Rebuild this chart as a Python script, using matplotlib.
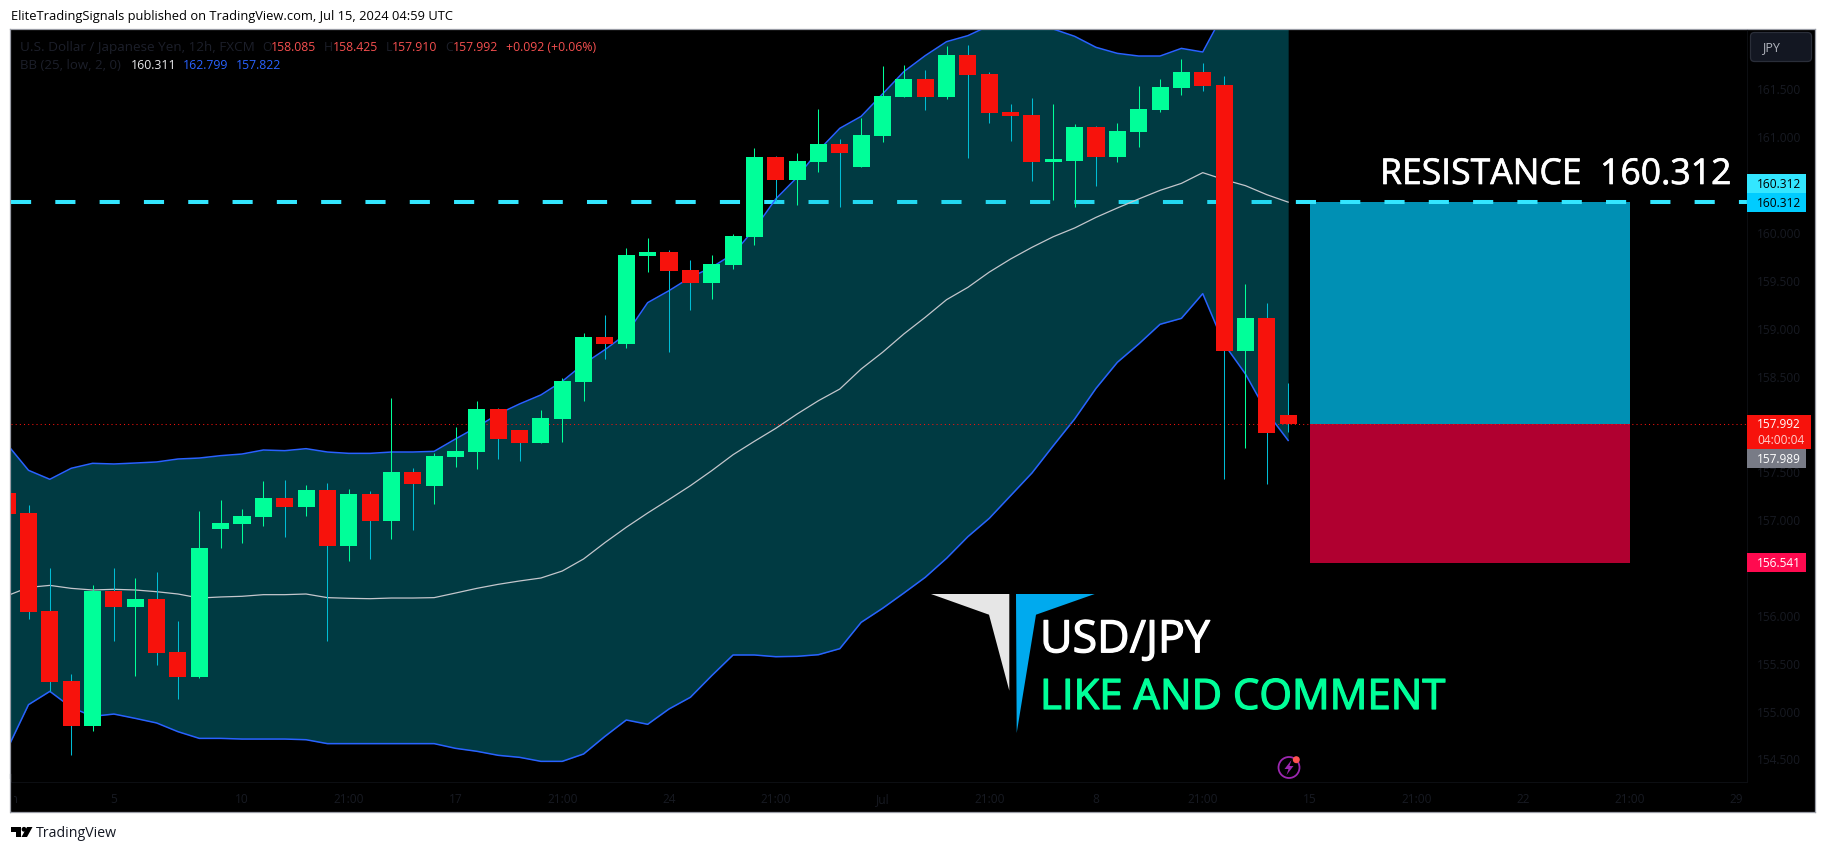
import numpy as np
import matplotlib
matplotlib.use("Agg")
from matplotlib import pyplot as plt
from matplotlib import patheffects
from matplotlib.patches import Rectangle, Polygon, Circle, FancyBboxPatch

W, H = 1826, 853

# =======================================================================================================================
# candles, first one is the cut off bar at the left edge
bar_index = np.arange(-1, 60)
opens = [157.273, 157.064, 156.040, 155.309, 154.843, 156.253, 156.086, 156.166, 155.612, 155.354, 156.900,
         156.949, 157.026, 157.221, 157.130, 157.304, 156.723, 157.262, 156.984, 157.492, 157.346, 157.649,
         157.705, 158.150, 157.930, 157.795, 158.046, 158.432, 158.902, 158.829, 159.748, 159.790, 159.602,
         159.466, 159.654, 159.947, 160.782, 160.542, 160.730, 160.918, 160.678, 161.002, 161.409, 161.597,
         161.409, 161.848, 161.649, 161.252, 161.221, 160.730, 160.740, 161.096, 160.782, 161.044, 161.273,
         161.503, 161.670, 161.534, 158.756, 159.101, 158.085]
closes = [157.054, 156.033, 155.302, 154.843, 156.253, 156.086, 156.166, 155.605, 155.354, 156.698, 156.960,
          157.033, 157.221, 157.130, 157.304, 156.723, 157.262, 156.984, 157.492, 157.367, 157.659, 157.711,
          158.150, 157.840, 157.795, 158.056, 158.443, 158.902, 158.829, 159.759, 159.790, 159.592, 159.466,
          159.665, 159.957, 160.782, 160.542, 160.740, 160.918, 160.824, 161.012, 161.420, 161.597, 161.409,
          161.848, 161.639, 161.242, 161.211, 160.730, 160.761, 161.096, 160.782, 161.054, 161.284, 161.514,
          161.670, 161.524, 158.756, 159.101, 157.900, 157.992]
highs = [157.310, 157.148, 156.489, 155.382, 156.312, 156.489, 156.385, 156.448, 155.936, 157.085, 157.200,
         157.106, 157.398, 157.409, 157.356, 157.377, 157.315, 157.294, 158.262, 157.534, 157.687, 157.962,
         158.234, 158.161, 157.931, 158.140, 158.474, 158.944, 159.132, 159.832, 159.937, 159.811, 159.707,
         159.759, 159.978, 160.876, 160.793, 160.824, 161.284, 160.970, 161.190, 161.733, 161.743, 161.691,
         161.942, 161.952, 161.670, 161.336, 161.399, 161.336, 161.127, 161.106, 161.138, 161.524, 161.597,
         161.806, 161.764, 161.629, 159.456, 159.257, 158.425]
lows = [156.990, 155.957, 155.208, 154.536, 154.790, 155.727, 155.361, 155.476, 155.121, 155.344, 156.698,
        156.751, 156.928, 156.813, 157.033, 155.727, 156.563, 156.584, 156.792, 156.886, 157.158, 157.544,
        157.524, 157.628, 157.607, 157.795, 157.806, 158.234, 158.673, 158.787, 159.581, 158.746, 159.184,
        159.299, 159.612, 159.863, 160.326, 160.281, 160.626, 160.260, 160.678, 160.939, 161.409, 161.273,
        161.388, 160.772, 161.138, 160.949, 160.532, 160.333, 160.260, 160.480, 160.730, 160.887, 161.252,
        161.430, 161.472, 157.419, 157.743, 157.367, 157.910]

# bollinger bands
bb_upper = [157.781, 157.510, 157.416, 157.531, 157.583, 157.576, 157.586, 157.597, 157.628, 157.638, 157.663,
            157.680, 157.722, 157.715, 157.736, 157.701, 157.687, 157.687, 157.701, 157.701, 157.708, 157.837,
            157.962, 158.098, 158.203, 158.297, 158.439, 158.620, 158.770, 158.934, 159.261, 159.386, 159.525,
            159.630, 159.769, 160.030, 160.344, 160.570, 160.849, 161.082, 161.207, 161.440, 161.674, 161.841,
            161.987, 162.050, 162.154, 162.250, 162.250, 162.119, 162.043, 161.928, 161.865, 161.837, 161.837,
            161.917, 161.879, 162.293, 162.500, 162.700, 162.799]
bb_basis = [156.200, 156.287, 156.308, 156.277, 156.260, 156.267, 156.260, 156.242, 156.218, 156.176, 156.187,
            156.194, 156.211, 156.211, 156.218, 156.180, 156.173, 156.169, 156.176, 156.176, 156.180, 156.228,
            156.277, 156.319, 156.354, 156.385, 156.458, 156.584, 156.755, 156.915, 157.064, 157.205, 157.349,
            157.506, 157.673, 157.813, 157.948, 158.098, 158.237, 158.359, 158.568, 158.742, 158.934, 159.108,
            159.292, 159.421, 159.580, 159.717, 159.839, 159.950, 160.041, 160.152, 160.250, 160.344, 160.434,
            160.507, 160.619, 160.546, 160.483, 160.389, 160.311]
bb_lower = [154.595, 155.062, 155.201, 155.034, 154.940, 154.964, 154.919, 154.871, 154.780, 154.710, 154.710,
            154.703, 154.703, 154.703, 154.696, 154.655, 154.655, 154.655, 154.655, 154.655, 154.655, 154.606,
            154.575, 154.533, 154.512, 154.470, 154.470, 154.547, 154.731, 154.902, 154.857, 155.017, 155.139,
            155.365, 155.581, 155.581, 155.563, 155.567, 155.584, 155.647, 155.922, 156.068, 156.228, 156.392,
            156.591, 156.817, 157.008, 157.245, 157.482, 157.767, 158.046, 158.366, 158.638, 158.829, 159.035,
            159.097, 159.355, 158.829, 158.516, 158.116, 157.822]

resistance = 160.312
last_close = 157.992
stop = 156.541
box_start, box_end = 60, 75

price_ticks = [154.5, 155.0, 155.5, 156.0, 156.5, 157.0, 157.5, 158.0, 158.5, 159.0, 159.5, 160.0, 160.5, 161.0, 161.5]
hidden_prices = [156.5, 158.0, 160.5]
time_ticks = [4, 10, 15, 20, 25, 30, 35, 40, 45, 50, 55, 60, 65, 70, 75, 80]
time_labels = ['5', '10', '21:00', '17', '21:00', '24', '21:00', 'Jul', '21:00', '8', '21:00', '15', '21:00',
               '22', '21:00', '29']

UP = '#00ff99'
DOWN = '#f7120c'
WICK_DOWN = '#00bcd4'
TICK = '#171a22'
FONT = 'Open Sans'

# =======================================================================================================================
# scales: one bar is 21.35 px, one price unit is 95.74 px
x_left = (11 - 28.5) / 21.35
x_right = (1747 - 28.5) / 21.35
y_top = 161.5 + (89.3 - 31) / 95.74
y_bottom = 161.5 - (783 - 89.3) / 95.74

fig = plt.figure(figsize=(W / 100, H / 100), dpi=100, facecolor='white')
plt.rcParams['font.family'] = FONT

bg = fig.add_axes([10 / W, 40 / H, 1805 / W, 783 / H], facecolor='black', zorder=0)
bg.set_xticks([])
bg.set_yticks([])
for s in bg.spines.values():
    s.set_color('#9a9da6')
    s.set_linewidth(0.9)

ax = fig.add_axes([11 / W, (H - 783) / H, (1747 - 11) / W, (783 - 31) / H], zorder=1)
ax.patch.set_visible(False)
ax.spines['top'].set_visible(False)
ax.spines['left'].set_visible(False)
ax.spines['right'].set_color('#0c0e12')
ax.spines['bottom'].set_color('#0c0e12')
ax.yaxis.tick_right()
ax.set_yticks([p for p in price_ticks if p not in hidden_prices])
ax.set_yticklabels(['%.3f' % p for p in price_ticks if p not in hidden_prices])
ax.set_xticks(time_ticks)
ax.set_xticklabels(time_labels)
ax.tick_params(axis='y', length=0, pad=7, labelsize=8.6, labelcolor=TICK)
ax.tick_params(axis='x', length=0, pad=7.5, labelsize=8.6, labelcolor=TICK)
# set_xticks can move the limits, so these come after it
ax.set_xlim(x_left, x_right)
ax.set_ylim(y_bottom, y_top)

# position boxes
ax.bar((box_start + box_end) / 2, resistance - last_close, bottom=last_close, width=box_end - box_start,
       color='#0090b4', linewidth=0, zorder=1)
ax.bar((box_start + box_end) / 2, last_close - stop, bottom=stop, width=box_end - box_start,
       color='#b00030', linewidth=0, zorder=1)

# resistance sits under the band, the band tints it
ax.hlines(resistance, x_left, x_right, color='#33e6ff', linewidth=2.9, linestyle=(0, (5, 6)), zorder=2)

ax.fill_between(bar_index, bb_lower, bb_upper, color='#00bcd4', alpha=0.315, linewidth=0, zorder=3)
ax.plot(bar_index, bb_upper, color='#2962ff', linewidth=1.1, zorder=4)
ax.plot(bar_index, bb_lower, color='#2962ff', linewidth=1.1, zorder=4)
ax.plot(bar_index, bb_basis, color='#c4c6cc', linewidth=0.9, zorder=4)

ax.hlines(last_close, x_left, x_right, color=DOWN, linewidth=0.75, linestyle=(0, (1, 3)), zorder=5)

for i, o, h, l, c in zip(bar_index, opens, highs, lows, closes):
    up = c > o
    ax.vlines(i, l, h, color=UP if up else WICK_DOWN, linewidth=0.75, zorder=6)
    ax.bar(i, abs(c - o), bottom=min(o, c), width=0.8, color=UP if up else DOWN, linewidth=0, zorder=7)

# =======================================================================================================================
# everything around the plot, in pixels
px = fig.add_axes([0, 0, 1, 1], zorder=10)
px.set_xlim(0, W)
px.set_ylim(H, 0)
px.axis('off')


def label(x, y, s, color='black', size=9, ha='left', weight='normal'):
    px.text(x, y, s, color=color, fontsize=size, ha=ha, va='center', fontweight=weight, family=FONT)


def big_label(x, y, s, color, size, stroke):
    t = px.text(x, y, s, color=color, fontsize=size, ha='left', va='baseline', family=FONT)
    t.set_path_effects([patheffects.withStroke(linewidth=stroke, foreground=color)])


# 'Jun' runs off the chart, the black strip and the white strip hide the rest of it
px.text(9.5, 798.5, 'Jun', color=TICK, fontsize=8.6, ha='center', va='center', family=FONT)
px.add_patch(Rectangle((10.5, 784), 3.5, 28, color='black', linewidth=0, zorder=5))
px.add_patch(Rectangle((0, 780), 9.6, 40, color='white', linewidth=0, zorder=5))
px.plot([10, 10], [775, 813], color='#9a9da6', linewidth=0.9, zorder=6)

label(11, 16, 'EliteTradingSignals published on TradingView.com, Jul 15, 2024 04:59 UTC', size=9.27)

LEG = '#1c1f2a'
RED = '#f44f4f'
label(20, 47, 'U.S. Dollar / Japanese Yen, 12h, FXCM', LEG, 9.7)
for x, s in [(262, 'O'), (324, 'H'), (385.5, 'L'), (445, 'C')]:
    label(x, 47, s, LEG, 8.8)
for x, s in [(271, '158.085'), (333, '158.425'), (392, '157.910'), (452.7, '157.992'), (506, '+0.092 (+0.06%)')]:
    label(x, 47, s, RED, 8.8)
label(20, 65.5, 'BB (25, low, 2, 0)', LEG, 9.5)
label(130.5, 65.5, '160.311', '#e8e8ea', 8.8)
label(183, 65.5, '162.799', '#2962ff', 8.8)
label(236, 65.5, '157.822', '#2962ff', 8.8)

# currency button
px.add_patch(FancyBboxPatch((1753, 36), 56, 24, boxstyle='round,pad=2.5,rounding_size=4', facecolor='#131722',
                            edgecolor='#2a2e39', linewidth=0.9))
label(1762, 48, 'JPY', '#b2b5be', 9)

# price axis tags
for y0, y1, x1, col, txt, tcol in [(175, 194, 1806, '#33e6ff', '160.312', 'black'),
                                   (194, 213, 1806, '#00ccff', '160.312', 'black'),
                                   (450, 469, 1806, '#787b86', '157.989', 'white'),
                                   (554, 573, 1806, '#ff0a4f', '156.541', 'white')]:
    px.add_patch(Rectangle((1747, y0), x1 - 1747, y1 - y0, color=col, linewidth=0))
    label(1757, (y0 + y1) / 2, txt, tcol, 8.6)
px.add_patch(Rectangle((1747, 416), 64, 34, color=DOWN, linewidth=0))
label(1757, 425, '157.992', 'white', 8.6)
label(1757, 440, '04:00:04', '#ffd0ce', 8.6)

big_label(1380, 185, 'RESISTANCE  160.312', 'white', 25.6, 0.5)
big_label(1040, 653.3, 'USD/JPY', 'white', 32.2, 0.9)
big_label(1040, 710, 'LIKE AND COMMENT', UP, 30.2, 0.9)

# logo
px.add_patch(Polygon([(931, 595), (1009.3, 595), (1009.3, 691.7), (989, 615.7)], color='#e6e6e6', linewidth=0))
px.add_patch(Polygon([(1016, 595), (1094.7, 595), (1036, 615.7), (1016.7, 734)], color='#00aaee', linewidth=0))

# lightning badge
px.add_patch(Circle((1289, 768.5), 10.5, facecolor='none', edgecolor='#9c27b0', linewidth=1.3))
px.add_patch(Polygon([(1291.5, 761), (1284.5, 770), (1288.5, 770), (1286.5, 776), (1293.5, 767), (1289.5, 767)],
                     color='#9c27b0', linewidth=0))
px.add_patch(Circle((1296.3, 760.7), 3.5, color='#ff5252', linewidth=0))

# footer logo
px.add_patch(Polygon([(11, 828), (20.5, 828), (20.5, 838), (15.5, 838), (15.5, 832.5), (11, 832.5)], color='black',
                     linewidth=0))
px.add_patch(Circle((24, 830.3), 2.4, color='black', linewidth=0))
px.add_patch(Polygon([(27, 828), (32.5, 828), (27, 838), (21.5, 838)], color='black', linewidth=0))
label(36, 834, 'TradingView', '#131722', 10.2)

fig.savefig('out.png', dpi=100, facecolor='white')
